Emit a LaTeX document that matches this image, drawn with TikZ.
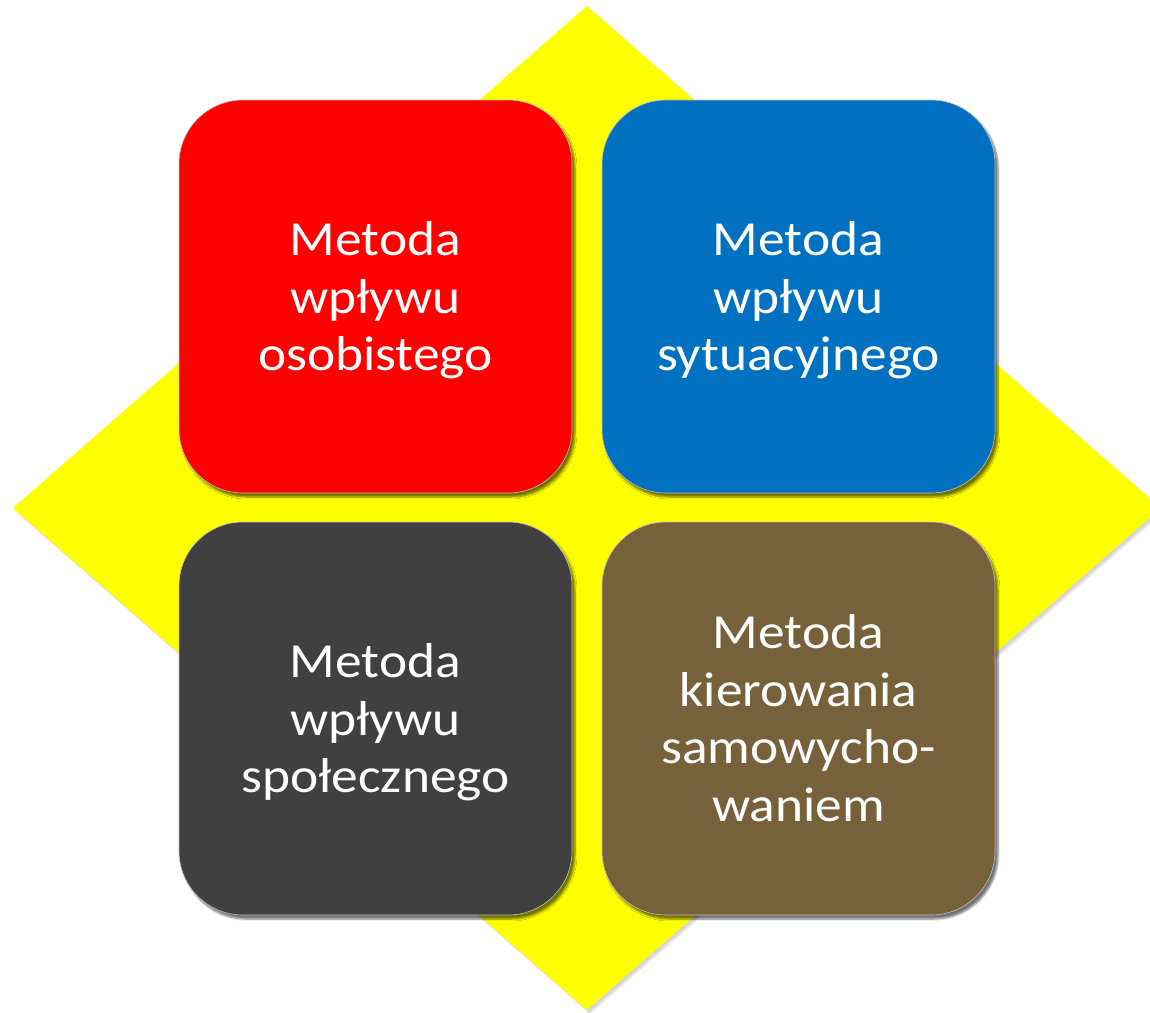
\documentclass[tikz,border=0pt]{standalone}
\usepackage{fontspec}
\setmainfont{Carlito}
\usetikzlibrary{shadows.blur}
\definecolor{dyellow}{HTML}{FFFF00}
\definecolor{dred}{HTML}{FF0000}
\definecolor{dblue}{HTML}{0070C0}
\definecolor{dgray}{HTML}{404040}
\definecolor{dbrown}{HTML}{77613B}
\tikzset{
  quad/.style={rounded corners=64pt, minimum width=393pt, minimum height=393pt,
    inner sep=0pt, text=white, draw=black!25, line width=0.6pt,
    blur shadow={shadow xshift=3pt, shadow yshift=-4pt, shadow blur steps=6, shadow opacity=55},
    font=\fontsize{49}{57.5}\selectfont},
  dshadow/.style={fill=black!50, opacity=0.18},
}
\newcommand{\qtext}[1]{\raisebox{-5pt}[\height][\depth]{\scalebox{1.09}[1]{\begin{tabular}{@{}c@{}}#1\end{tabular}}}}
\begin{document}
\begin{tikzpicture}[x=1pt,y=-1pt]
\useasboundingbox (0,0) rectangle (1150,1012);
\begin{scope}
\clip (0,0) rectangle (1150,1012);
\fill[dshadow] (590,10) -- (1164,512) -- (590,1014) -- (16,512) -- cycle;
\fill[dshadow] (589,8) -- (1163,510) -- (589,1012) -- (15,510) -- cycle;
\fill[dyellow] (587,6) coordinate (dt) -- (1161,508) coordinate (dr) -- (587,1010) coordinate (db) -- (13,508) coordinate (dl) -- cycle;
\end{scope}
\node[quad, fill=dred]   (red)   at (375.5,296.5) {\qtext{Metoda\\wpływu\\osobistego}};
\node[quad, fill=dblue]  (blue)  at (798.5,296.5) {\qtext{Metoda\\wpływu\\sytuacyjnego}};
\node[quad, fill=dgray]  (gray)  at (375.5,718.5) {\qtext{Metoda\\wpływu\\społecznego}};
\node[quad, fill=dbrown] (brown) at (798.5,718.5) {\qtext{Metoda\\kierowania\\samowycho-\\waniem}};
\end{tikzpicture}
\end{document}
